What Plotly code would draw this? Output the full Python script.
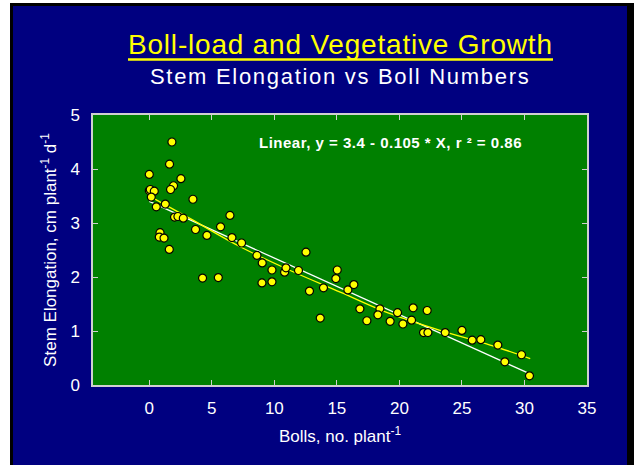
import plotly.graph_objects as go

# Observed data: bolls per plant vs stem elongation (cm plant^-1 d^-1)
bolls = [1.81, 1.62, 0.00, 2.53, 1.94, 1.70, 0.00, 0.08, 0.40, 0.16,
         0.56, 1.28, 3.49, 2.02, 2.29, 2.72, 3.70, 6.45, 5.70, 4.61,
         6.61, 0.86, 0.80, 1.18, 1.60, 4.26, 5.52, 7.38, 8.61, 9.03,
         9.81, 9.01, 9.81, 10.82, 10.93, 11.93, 12.53, 12.81, 13.93, 15.03,
         14.92, 15.88, 13.67, 16.36, 16.84, 17.40, 18.44, 18.28, 19.26, 19.85,
         20.28, 20.97, 21.10, 22.22, 21.93, 22.28, 23.66, 25.00, 25.82, 26.51,
         27.87, 28.43, 29.76, 30.40]
elongation = [4.50, 4.09, 3.90, 3.82, 3.69, 3.62, 3.60, 3.62, 3.59, 3.48,
              3.30, 3.35, 3.44, 3.11, 3.12, 3.09, 2.88, 3.14, 2.93, 2.77,
              2.73, 2.82, 2.74, 2.72, 2.51, 1.98, 1.99, 2.63, 2.40, 2.26,
              2.13, 1.89, 1.91, 2.09, 2.17, 2.12, 2.46, 1.74, 1.80, 2.13,
              1.97, 1.76, 1.24, 1.86, 1.41, 1.19, 1.41, 1.30, 1.18, 1.34,
              1.13, 1.20, 1.43, 1.38, 0.97, 0.97, 0.97, 1.01, 0.83, 0.84,
              0.74, 0.43, 0.56, 0.17]

# Linear fit line (white), endpoints
linear_x = [0.0, 30.4]
linear_y = [3.40, 0.21]

# Curved fit (yellow)
curve_x = [0.16, 3.28, 7.27, 11.27, 15.27, 19.26, 23.26, 27.26, 30.46]
curve_y = [3.48, 3.08, 2.56, 2.12, 1.72, 1.32, 1.01, 0.74, 0.49]

x_ticks = [0, 5, 10, 15, 20, 25, 30, 35]
y_ticks = [0, 1, 2, 3, 4, 5]

title_text = "Boll-load and Vegetative Growth"
subtitle_text = "Stem Elongation vs Boll Numbers"
fit_label = "Linear, y = 3.4 - 0.105 * X, r \u00b2 = 0.86"
x_title = "Bolls, no. plant<sup>-1</sup>"
y_title = "Stem Elongation, cm plant<sup>-1</sup> d<sup>-1</sup>"

NAVY = "#000080"
GREEN = "#008000"
AXIS = "#d0d0d0"
FONT = "Liberation Sans, Arial, sans-serif"

fig = go.Figure()
fig.add_trace(go.Scatter(x=linear_x, y=linear_y, mode="lines",
                         line=dict(color="#ffffff", width=1.3),
                         hoverinfo="skip", showlegend=False))
fig.add_trace(go.Scatter(x=curve_x, y=curve_y, mode="lines",
                         line=dict(color="#ffff00", width=1.3, shape="spline"),
                         hoverinfo="skip", showlegend=False))
fig.add_trace(go.Scatter(x=bolls, y=elongation, mode="markers",
                         marker=dict(color="#ffff00", size=8,
                                     line=dict(color="#000000", width=1.2)),
                         showlegend=False))

W, H = 634, 465
L, R, T, B = 93, 47, 115, 80
pw, ph = W - L - R, H - T - B


def px(xp):
    return (xp - L) / pw


def py(yp):
    return (H - B - yp) / ph


shapes = [
    # white margin left and top
    dict(type="rect", xref="paper", yref="paper", x0=px(0), x1=px(10), y0=py(0), y1=py(H),
         fillcolor="#ffffff", line_width=0, layer="below"),
    dict(type="rect", xref="paper", yref="paper", x0=px(0), x1=px(W), y0=py(0), y1=py(3),
         fillcolor="#ffffff", line_width=0, layer="below"),
    # black frame
    dict(type="rect", xref="paper", yref="paper", x0=px(10), x1=px(13), y0=py(3), y1=py(H),
         fillcolor="#000000", line_width=0, layer="below"),
    dict(type="rect", xref="paper", yref="paper", x0=px(10), x1=px(W), y0=py(3), y1=py(6),
         fillcolor="#000000", line_width=0, layer="below"),
    dict(type="rect", xref="paper", yref="paper", x0=px(627), x1=px(W), y0=py(3), y1=py(H),
         fillcolor="#000000", line_width=0, layer="below"),
    # title underline
    dict(type="line", xref="paper", yref="paper", x0=px(128), x1=px(553), y0=py(59.5), y1=py(59.5),
         line=dict(color="#ffff00", width=2.5)),
]

annotations = [
    dict(text='<span style="letter-spacing:0.8px">' + title_text + "</span>",
         xref="paper", yref="paper", x=px(340), y=py(45),
         xanchor="center", yanchor="middle", showarrow=False,
         font=dict(family=FONT, size=28, color="#ffff00")),
    dict(text='<span style="letter-spacing:1.7px">' + subtitle_text + "</span>",
         xref="paper", yref="paper", x=px(340), y=py(77),
         xanchor="center", yanchor="middle", showarrow=False,
         font=dict(family=FONT, size=22, color="#ffffff")),
    dict(text='<span style="letter-spacing:0.5px"><b>' + fit_label + "</b></span>",
         xref="paper", yref="paper", x=px(390), y=py(142),
         xanchor="center", yanchor="middle", showarrow=False,
         font=dict(family=FONT, size=15, color="#ffffff")),
]

fig.update_layout(
    width=W, height=H,
    margin=dict(l=L, r=R, t=T, b=B, pad=0),
    paper_bgcolor=NAVY, plot_bgcolor=GREEN,
    shapes=shapes, annotations=annotations,
    font=dict(family=FONT, color="#ffffff"),
    xaxis=dict(range=[-4.5, 35], tickvals=x_ticks, ticktext=[str(v) for v in x_ticks],
               showgrid=False, zeroline=False, showline=True, linecolor=AXIS, linewidth=1.5,
               mirror="ticks", ticks="inside", ticklen=5, tickcolor=AXIS, tickwidth=1,
               ticklabelstandoff=7,
               tickfont=dict(family=FONT, size=17, color="#ffffff"),
               title=dict(text=x_title, font=dict(family=FONT, size=17, color="#ffffff"),
                          standoff=13)),
    yaxis=dict(range=[0, 5], tickvals=y_ticks, ticktext=[str(v) for v in y_ticks],
               showgrid=False, zeroline=False, showline=True, linecolor=AXIS, linewidth=1.5,
               mirror="ticks", ticks="inside", ticklen=5, tickcolor=AXIS, tickwidth=1,
               ticklabelstandoff=8,
               tickfont=dict(family=FONT, size=17, color="#ffffff"),
               title=dict(text=y_title, font=dict(family=FONT, size=17, color="#ffffff"),
                          standoff=9)),
)

fig.write_html("out.html", config={"displayModeBar": False},
               post_script="document.body.style.margin='0';")
